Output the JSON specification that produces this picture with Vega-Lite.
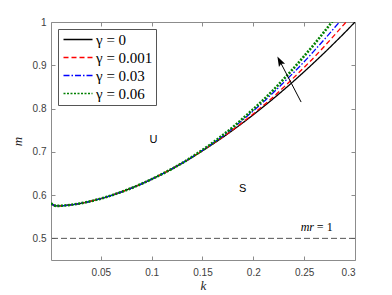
{
  "$schema": "https://vega.github.io/schema/vega-lite/v6.json",
  "width": 304,
  "height": 238,
  "autosize": {"type": "none"},
  "padding": {"left": 51, "top": 22, "right": 37, "bottom": 35},
  "background": "white",
  "config": {
    "view": {"stroke": null},
    "axis": {
      "grid": false,
      "domainColor": "#8c8c8c",
      "tickColor": "#8c8c8c",
      "labelColor": "#404040",
      "labelFont": "Liberation Sans",
      "labelFontSize": 10,
      "titleFont": "Liberation Serif",
      "titleFontStyle": "italic",
      "titleFontWeight": "normal",
      "titleFontSize": 13,
      "titleColor": "#262626",
      "tickSize": -4
    },
    "legend": {
      "orient": "top-left",
      "offset": 7,
      "title": null,
      "labelFont": "Liberation Serif",
      "labelFontSize": 15,
      "labelColor": "#000000",
      "strokeColor": "#555555",
      "fillColor": "white",
      "padding": 3,
      "rowPadding": 2,
      "symbolType": "M-1,0H4.8",
      "symbolSize": 100,
      "labelOffset": 20,
      "labelLimit": 200
    }
  },
  "datasets": {
    "curves": [
      {"g": "γ = 0", "k": 0.001, "m": 0.581}, {"g": "γ = 0", "k": 0.003, "m": 0.5775}, {"g": "γ = 0", "k": 0.0066, "m": 0.575}, {"g": "γ = 0", "k": 0.01, "m": 0.5752}, {"g": "γ = 0", "k": 0.015, "m": 0.576}, {"g": "γ = 0", "k": 0.02, "m": 0.5773}, {"g": "γ = 0", "k": 0.03, "m": 0.5809}, {"g": "γ = 0", "k": 0.04, "m": 0.5858}, {"g": "γ = 0", "k": 0.05, "m": 0.5919}, {"g": "γ = 0", "k": 0.06, "m": 0.599}, {"g": "γ = 0", "k": 0.07, "m": 0.6071}, {"g": "γ = 0", "k": 0.08, "m": 0.6161}, {"g": "γ = 0", "k": 0.09, "m": 0.626}, {"g": "γ = 0", "k": 0.1, "m": 0.6368}, {"g": "γ = 0", "k": 0.11, "m": 0.6484}, {"g": "γ = 0", "k": 0.12, "m": 0.6607}, {"g": "γ = 0", "k": 0.13, "m": 0.6739}, {"g": "γ = 0", "k": 0.14, "m": 0.6877}, {"g": "γ = 0", "k": 0.15, "m": 0.7023}, {"g": "γ = 0", "k": 0.16, "m": 0.7177}, {"g": "γ = 0", "k": 0.17, "m": 0.7336}, {"g": "γ = 0", "k": 0.18, "m": 0.7503}, {"g": "γ = 0", "k": 0.19, "m": 0.7677}, {"g": "γ = 0", "k": 0.2, "m": 0.7857}, {"g": "γ = 0", "k": 0.21, "m": 0.8044}, {"g": "γ = 0", "k": 0.22, "m": 0.8236}, {"g": "γ = 0", "k": 0.23, "m": 0.8435}, {"g": "γ = 0", "k": 0.24, "m": 0.864}, {"g": "γ = 0", "k": 0.25, "m": 0.8852}, {"g": "γ = 0", "k": 0.26, "m": 0.9069}, {"g": "γ = 0", "k": 0.27, "m": 0.9292}, {"g": "γ = 0", "k": 0.28, "m": 0.9522}, {"g": "γ = 0", "k": 0.29, "m": 0.9756}, {"g": "γ = 0", "k": 0.3, "m": 1.0},
      {"g": "γ = 0.001", "k": 0.001, "m": 0.581}, {"g": "γ = 0.001", "k": 0.003, "m": 0.5775}, {"g": "γ = 0.001", "k": 0.0066, "m": 0.575}, {"g": "γ = 0.001", "k": 0.01, "m": 0.5752}, {"g": "γ = 0.001", "k": 0.015, "m": 0.576}, {"g": "γ = 0.001", "k": 0.02, "m": 0.5773}, {"g": "γ = 0.001", "k": 0.03, "m": 0.5809}, {"g": "γ = 0.001", "k": 0.04, "m": 0.5858}, {"g": "γ = 0.001", "k": 0.05, "m": 0.5919}, {"g": "γ = 0.001", "k": 0.06, "m": 0.599}, {"g": "γ = 0.001", "k": 0.07, "m": 0.6071}, {"g": "γ = 0.001", "k": 0.08, "m": 0.6161}, {"g": "γ = 0.001", "k": 0.09, "m": 0.626}, {"g": "γ = 0.001", "k": 0.1, "m": 0.6368}, {"g": "γ = 0.001", "k": 0.11, "m": 0.6484}, {"g": "γ = 0.001", "k": 0.12, "m": 0.6607}, {"g": "γ = 0.001", "k": 0.13, "m": 0.6739}, {"g": "γ = 0.001", "k": 0.14, "m": 0.6877}, {"g": "γ = 0.001", "k": 0.15, "m": 0.7023}, {"g": "γ = 0.001", "k": 0.16, "m": 0.7182}, {"g": "γ = 0.001", "k": 0.17, "m": 0.7341}, {"g": "γ = 0.001", "k": 0.18, "m": 0.7513}, {"g": "γ = 0.001", "k": 0.19, "m": 0.7692}, {"g": "γ = 0.001", "k": 0.2, "m": 0.7877}, {"g": "γ = 0.001", "k": 0.21, "m": 0.8074}, {"g": "γ = 0.001", "k": 0.22, "m": 0.8276}, {"g": "γ = 0.001", "k": 0.23, "m": 0.8495}, {"g": "γ = 0.001", "k": 0.24, "m": 0.872}, {"g": "γ = 0.001", "k": 0.25, "m": 0.8952}, {"g": "γ = 0.001", "k": 0.26, "m": 0.9189}, {"g": "γ = 0.001", "k": 0.27, "m": 0.9442}, {"g": "γ = 0.001", "k": 0.28, "m": 0.9702}, {"g": "γ = 0.001", "k": 0.29, "m": 0.9966}, {"g": "γ = 0.001", "k": 0.3, "m": 1.024},
      {"g": "γ = 0.03", "k": 0.001, "m": 0.581}, {"g": "γ = 0.03", "k": 0.003, "m": 0.5775}, {"g": "γ = 0.03", "k": 0.0066, "m": 0.575}, {"g": "γ = 0.03", "k": 0.01, "m": 0.5752}, {"g": "γ = 0.03", "k": 0.015, "m": 0.576}, {"g": "γ = 0.03", "k": 0.02, "m": 0.5773}, {"g": "γ = 0.03", "k": 0.03, "m": 0.5809}, {"g": "γ = 0.03", "k": 0.04, "m": 0.5858}, {"g": "γ = 0.03", "k": 0.05, "m": 0.5919}, {"g": "γ = 0.03", "k": 0.06, "m": 0.599}, {"g": "γ = 0.03", "k": 0.07, "m": 0.6071}, {"g": "γ = 0.03", "k": 0.08, "m": 0.6161}, {"g": "γ = 0.03", "k": 0.09, "m": 0.626}, {"g": "γ = 0.03", "k": 0.1, "m": 0.6368}, {"g": "γ = 0.03", "k": 0.11, "m": 0.6484}, {"g": "γ = 0.03", "k": 0.12, "m": 0.6607}, {"g": "γ = 0.03", "k": 0.13, "m": 0.6739}, {"g": "γ = 0.03", "k": 0.14, "m": 0.6882}, {"g": "γ = 0.03", "k": 0.15, "m": 0.7033}, {"g": "γ = 0.03", "k": 0.16, "m": 0.7197}, {"g": "γ = 0.03", "k": 0.17, "m": 0.7366}, {"g": "γ = 0.03", "k": 0.18, "m": 0.7553}, {"g": "γ = 0.03", "k": 0.19, "m": 0.7747}, {"g": "γ = 0.03", "k": 0.2, "m": 0.7947}, {"g": "γ = 0.03", "k": 0.21, "m": 0.8154}, {"g": "γ = 0.03", "k": 0.22, "m": 0.8376}, {"g": "γ = 0.03", "k": 0.23, "m": 0.8605}, {"g": "γ = 0.03", "k": 0.24, "m": 0.884}, {"g": "γ = 0.03", "k": 0.25, "m": 0.9082}, {"g": "γ = 0.03", "k": 0.26, "m": 0.9339}, {"g": "γ = 0.03", "k": 0.27, "m": 0.9602}, {"g": "γ = 0.03", "k": 0.28, "m": 0.9872}, {"g": "γ = 0.03", "k": 0.29, "m": 1.0146},
      {"g": "γ = 0.06", "k": 0.001, "m": 0.581}, {"g": "γ = 0.06", "k": 0.003, "m": 0.5775}, {"g": "γ = 0.06", "k": 0.0066, "m": 0.575}, {"g": "γ = 0.06", "k": 0.01, "m": 0.5752}, {"g": "γ = 0.06", "k": 0.015, "m": 0.576}, {"g": "γ = 0.06", "k": 0.02, "m": 0.5773}, {"g": "γ = 0.06", "k": 0.03, "m": 0.5809}, {"g": "γ = 0.06", "k": 0.04, "m": 0.5858}, {"g": "γ = 0.06", "k": 0.05, "m": 0.5919}, {"g": "γ = 0.06", "k": 0.06, "m": 0.599}, {"g": "γ = 0.06", "k": 0.07, "m": 0.6071}, {"g": "γ = 0.06", "k": 0.08, "m": 0.6161}, {"g": "γ = 0.06", "k": 0.09, "m": 0.626}, {"g": "γ = 0.06", "k": 0.1, "m": 0.6368}, {"g": "γ = 0.06", "k": 0.11, "m": 0.6484}, {"g": "γ = 0.06", "k": 0.12, "m": 0.6607}, {"g": "γ = 0.06", "k": 0.13, "m": 0.6739}, {"g": "γ = 0.06", "k": 0.14, "m": 0.6887}, {"g": "γ = 0.06", "k": 0.15, "m": 0.7043}, {"g": "γ = 0.06", "k": 0.16, "m": 0.7207}, {"g": "γ = 0.06", "k": 0.17, "m": 0.7386}, {"g": "γ = 0.06", "k": 0.18, "m": 0.7573}, {"g": "γ = 0.06", "k": 0.19, "m": 0.7777}, {"g": "γ = 0.06", "k": 0.2, "m": 0.7987}, {"g": "γ = 0.06", "k": 0.21, "m": 0.8204}, {"g": "γ = 0.06", "k": 0.22, "m": 0.8436}, {"g": "γ = 0.06", "k": 0.23, "m": 0.8685}, {"g": "γ = 0.06", "k": 0.24, "m": 0.894}, {"g": "γ = 0.06", "k": 0.25, "m": 0.9212}, {"g": "γ = 0.06", "k": 0.26, "m": 0.9489}, {"g": "γ = 0.06", "k": 0.27, "m": 0.9782}, {"g": "γ = 0.06", "k": 0.28, "m": 1.0082}
    ]
  },
  "layer": [
    {
      "data": {"values": [{"m": 0.5}]},
      "mark": {"type": "rule", "color": "#555555", "strokeDash": [6, 3], "strokeWidth": 1},
      "encoding": {
        "y": {"field": "m", "type": "quantitative", "scale": {"domain": [0.45, 1], "nice": false, "zero": false}, "axis": null}
      }
    },
    {
      "data": {"name": "curves"},
      "transform": [{"filter": "datum.g !== 'γ = 0.06'"}],
      "mark": {"type": "line", "clip": true, "interpolate": "monotone", "strokeCap": "butt", "strokeWidth": 1.3},
      "encoding": {
        "x": {"field": "k", "type": "quantitative", "scale": {"domain": [0.001, 0.3], "nice": false, "zero": false},
              "axis": {"orient": "bottom", "values": [0.05, 0.1, 0.15, 0.2, 0.25, 0.3], "format": "~g", "title": "k", "labelPadding": 11, "titlePadding": 2}},
        "y": {"field": "m", "type": "quantitative", "scale": {"domain": [0.45, 1], "nice": false, "zero": false},
              "axis": {"orient": "left", "values": [0.5, 0.6, 0.7, 0.8, 0.9, 1], "format": "~g", "title": "m", "labelPadding": 9, "titlePadding": 8}},
        "color": {"field": "g", "type": "nominal", "title": null,
                  "scale": {"domain": ["γ = 0", "γ = 0.001", "γ = 0.03", "γ = 0.06"], "range": ["#000000", "#ff0000", "#0000ff", "#008000"]}},
        "strokeDash": {"field": "g", "type": "nominal", "title": null,
                  "scale": {"domain": ["γ = 0", "γ = 0.001", "γ = 0.03", "γ = 0.06"], "range": [[1, 0], [5, 3], [6, 2, 1.5, 2], [2, 1.5]]}},
        "order": {"field": "k", "type": "quantitative"}
      }
    },
    {
      "data": {"name": "curves"},
      "transform": [{"filter": "datum.g === 'γ = 0.06'"}],
      "mark": {"type": "line", "clip": true, "interpolate": "monotone", "strokeCap": "butt", "strokeWidth": 2.6},
      "encoding": {
        "x": {"field": "k", "type": "quantitative", "scale": {"domain": [0.001, 0.3], "nice": false, "zero": false}, "axis": null},
        "y": {"field": "m", "type": "quantitative", "scale": {"domain": [0.45, 1], "nice": false, "zero": false}, "axis": null},
        "color": {"field": "g", "type": "nominal", "title": null,
                  "scale": {"domain": ["γ = 0", "γ = 0.001", "γ = 0.03", "γ = 0.06"], "range": ["#000000", "#ff0000", "#0000ff", "#008000"]}},
        "strokeDash": {"field": "g", "type": "nominal", "title": null,
                  "scale": {"domain": ["γ = 0", "γ = 0.001", "γ = 0.03", "γ = 0.06"], "range": [[1, 0], [5, 3], [6, 2, 1.5, 2], [2, 1.5]]}},
        "order": {"field": "k", "type": "quantitative"}
      }
    },
    {
      "data": {"values": [{"k": 0.1017, "m": 0.728, "t": "U"}, {"k": 0.1896, "m": 0.6145, "t": "S"}]},
      "mark": {"type": "text", "font": "Liberation Sans", "fontSize": 11, "color": "#000000", "align": "center", "baseline": "middle"},
      "encoding": {
        "x": {"field": "k", "type": "quantitative", "scale": {"domain": [0.001, 0.3], "nice": false, "zero": false}, "axis": null},
        "y": {"field": "m", "type": "quantitative", "scale": {"domain": [0.45, 1], "nice": false, "zero": false}, "axis": null},
        "text": {"field": "t"}
      }
    },
    {
      "data": {"values": [{"k": 0.2466, "m": 0.526, "t": "mr"}]},
      "mark": {"type": "text", "font": "Liberation Serif", "fontStyle": "italic", "fontSize": 12, "color": "#000000", "align": "left", "baseline": "middle"},
      "encoding": {
        "x": {"field": "k", "type": "quantitative", "scale": {"domain": [0.001, 0.3], "nice": false, "zero": false}, "axis": null},
        "y": {"field": "m", "type": "quantitative", "scale": {"domain": [0.45, 1], "nice": false, "zero": false}, "axis": null},
        "text": {"field": "t"}
      }
    },
    {
      "data": {"values": [{"k": 0.2625, "m": 0.526, "t": "= 1"}]},
      "mark": {"type": "text", "font": "Liberation Serif", "fontSize": 12, "color": "#000000", "align": "left", "baseline": "middle"},
      "encoding": {
        "x": {"field": "k", "type": "quantitative", "scale": {"domain": [0.001, 0.3], "nice": false, "zero": false}, "axis": null},
        "y": {"field": "m", "type": "quantitative", "scale": {"domain": [0.45, 1], "nice": false, "zero": false}, "axis": null},
        "text": {"field": "t"}
      }
    },
    {
      "data": {"values": [{"k": 0.247, "m": 0.815, "k2": 0.2262, "m2": 0.909}]},
      "mark": {"type": "rule", "color": "#000000", "strokeWidth": 1},
      "encoding": {
        "x": {"field": "k", "type": "quantitative", "scale": {"domain": [0.001, 0.3], "nice": false, "zero": false}, "axis": null},
        "y": {"field": "m", "type": "quantitative", "scale": {"domain": [0.45, 1], "nice": false, "zero": false}, "axis": null},
        "x2": {"field": "k2"},
        "y2": {"field": "m2"}
      }
    },
    {
      "data": {"values": [{"k": 0.2265, "m": 0.9074}]},
      "mark": {"type": "point", "shape": "M0,-1L0.55,0.6L0,0.3L-0.55,0.6Z", "size": 156, "angle": 332.5, "filled": true, "color": "#000000", "opacity": 1},
      "encoding": {
        "x": {"field": "k", "type": "quantitative", "scale": {"domain": [0.001, 0.3], "nice": false, "zero": false},
              "axis": {"orient": "top", "values": [0.05, 0.1, 0.15, 0.2, 0.25, 0.3], "labels": false, "title": null}},
        "y": {"field": "m", "type": "quantitative", "scale": {"domain": [0.45, 1], "nice": false, "zero": false},
              "axis": {"orient": "right", "values": [0.5, 0.6, 0.7, 0.8, 0.9, 1], "labels": false, "title": null}}
      }
    }
  ],
  "resolve": {"axis": {"x": "independent", "y": "independent"}}
}
